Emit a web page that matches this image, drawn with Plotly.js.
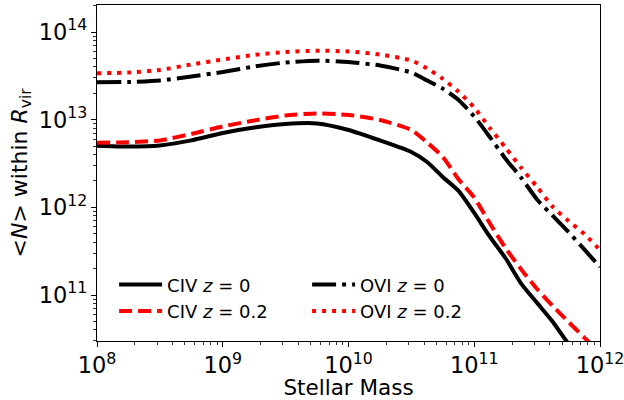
<!DOCTYPE html>
<html>
<head>
<meta charset="utf-8">
<script src="https://cdn.plot.ly/plotly-3.0.1.min.js"></script>
<style>html,body{margin:0;padding:0;background:#fff;}#chart{width:624px;height:400px;}</style>
</head>
<body>
<div id="chart"></div>
<script>
// Stellar mass grid (x values)
var stellarMass = [1e8, 1.78e8, 3.16e8, 5.62e8, 1e9, 1.78e9, 3.16e9, 5.62e9, 1e10, 1.78e10, 3.16e10,
  4.22e10, 5.62e10, 7.5e10, 1e11, 1.33e11, 1.78e11, 2.37e11, 3.16e11, 4.22e11, 5.62e11, 7.5e11, 1e12];

// <N> within R_vir for each series
var civZ0 = [5.05e12, 4.94e12, 5.08e12, 5.80e12, 7.05e12, 8.14e12, 8.93e12, 9.06e12, 7.63e12, 5.80e12, 4.28e12,
  3.29e12, 2.22e12, 1.54e12, 8.63e11, 4.63e11, 2.61e11, 1.34e11, 8.13e10, 4.93e10, 2.77e10, 1.68e10, 1.02e10];
var civZ02 = [5.47e12, 5.52e12, 5.80e12, 6.87e12, 8.37e12, 9.79e12, 1.117e13, 1.177e13, 1.133e13, 9.92e12, 7.63e12,
  5.50e12, 3.76e12, 2.09e12, 1.29e12, 6.59e11, 3.41e11, 1.95e11, 1.17e11, 7.47e10, 4.93e10, 3.27e10, 2.19e10];
var oviZ0 = [2.67e13, 2.69e13, 2.80e13, 3.11e13, 3.50e13, 4.04e13, 4.49e13, 4.71e13, 4.55e13, 4.15e13, 3.45e13,
  2.80e13, 2.26e13, 1.68e13, 1.088e13, 6.35e12, 3.56e12, 2.16e12, 1.23e12, 7.98e11, 5.24e11, 3.31e11, 2.09e11];
var oviZ02 = [3.38e13, 3.45e13, 3.69e13, 4.26e13, 4.86e13, 5.47e13, 5.92e13, 6.12e13, 5.99e13, 5.54e13, 4.73e13,
  3.84e13, 2.93e13, 2.08e13, 1.374e13, 8.04e12, 4.76e12, 2.81e12, 1.71e12, 1.01e12, 7.0e11, 4.97e11, 3.27e11];

var seriesNames = ['CIV <i>z</i> = 0', 'CIV <i>z</i> = 0.2', 'OVI <i>z</i> = 0', 'OVI <i>z</i> = 0.2'];

var font = 'DejaVu Sans, sans-serif';
var lw = 4;

var traces = [
  {x: stellarMass, y: civZ0, name: seriesNames[0], legendrank: 1,
   line: {color: '#000000', width: lw, dash: 'solid', shape: 'spline', smoothing: 0.6}},
  {x: stellarMass, y: civZ02, name: seriesNames[1], legendrank: 3,
   line: {color: '#ff0000', width: lw, dash: '13px,6px', shape: 'spline', smoothing: 0.6}},
  {x: stellarMass, y: oviZ0, name: seriesNames[2], legendrank: 2,
   line: {color: '#000000', width: lw, dash: '24px,6px,4px,6px', shape: 'spline', smoothing: 0.6}},
  {x: stellarMass, y: oviZ02, name: seriesNames[3], legendrank: 4,
   line: {color: '#ff0000', width: lw, dash: '4px,6px', shape: 'spline', smoothing: 0.6}}
].map(function(t){ t.type = 'scatter'; t.mode = 'lines'; t.hoverinfo = 'skip'; return t; });

var layout = {
  width: 624, height: 400,
  margin: {l: 97, r: 24, t: 5, b: 59, pad: 0},
  paper_bgcolor: '#ffffff', plot_bgcolor: '#ffffff',
  font: {family: font, size: 18, color: '#000000'},
  showlegend: true,
  legend: {
    orientation: 'h', x: 0.034, y: 0.222, xanchor: 'left', yanchor: 'top',
    bgcolor: 'rgba(0,0,0,0)', borderwidth: 0, font: {family: font, size: 18, color: '#000'},
    entrywidth: 135, entrywidthmode: 'pixels', itemwidth: 43, tracegroupgap: 0, traceorder: 'normal'
  },
  xaxis: {
    type: 'log', range: [8, 12], dtick: 1, exponentformat: 'power', ticklabeloverflow: 'allow',
    showline: true, linecolor: '#000', linewidth: 1, mirror: true,
    ticks: 'outside', ticklen: 5, tickwidth: 1, tickcolor: '#000',
    minor: {ticks: 'outside', ticklen: 3, tickwidth: 0.8, tickcolor: '#000', dtick: 'D1', showgrid: false},
    showgrid: false, zeroline: false,
    tickfont: {family: font, size: 18, color: '#000'},
    title: {text: 'Stellar Mass', font: {family: font, size: 21.5, color: '#000'}, standoff: 6}
  },
  yaxis: {
    type: 'log', range: [10.4755, 14.308], dtick: 1, exponentformat: 'power', ticklabeloverflow: 'allow',
    showline: true, linecolor: '#000', linewidth: 1, mirror: true,
    ticks: 'outside', ticklen: 5, tickwidth: 1, tickcolor: '#000',
    minor: {ticks: 'outside', ticklen: 3, tickwidth: 0.8, tickcolor: '#000', dtick: 'D1', showgrid: false},
    showgrid: false, zeroline: false,
    tickfont: {family: font, size: 18, color: '#000'},
    title: {text: '&lt;<i>N</i>&gt; within <i>R</i><sub>vir</sub>', font: {family: font, size: 22, color: '#000'}, standoff: 5}
  }
};

Plotly.newPlot('chart', traces, layout, {staticPlot: true, displayModeBar: false});
</script>
</body>
</html>
